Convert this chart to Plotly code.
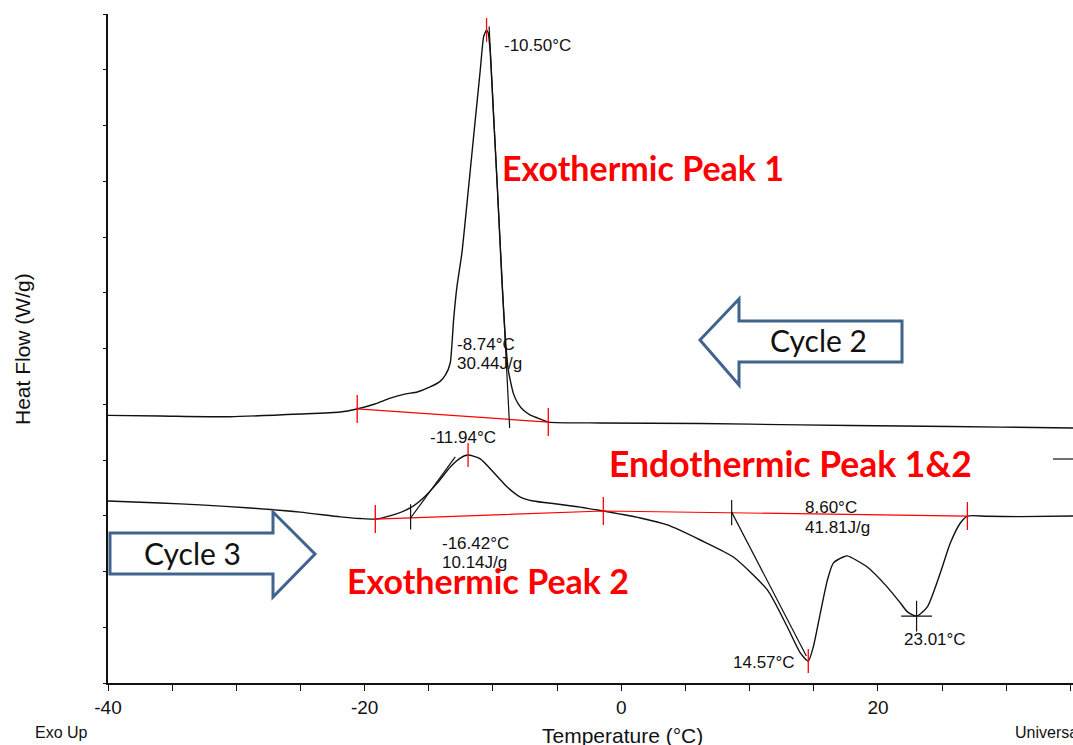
import numpy as np
import plotly.graph_objects as go

# ---- DSC data: Cycle 2 (cooling) and Cycle 3 (heating) ----
cycle2_temp = [-40.0, -35.9, -30.5, -25.0, -21.9, -20.6, -19.2, -18.0, -16.8, -15.9,
               -14.9, -14.1, -13.7, -13.33, -13.07, -12.81, -12.42, -11.90, -11.38, -10.99,
               -10.73, -10.50, -10.37, -10.21, -9.98, -9.66, -9.28, -9.04, -8.81, -8.42,
               -8.03, -7.64, -7.09, -6.55, -5.69, -1.64, 6.16, 13.95, 21.75, 29.54, 35.2]
cycle2_heat_flow = [-0.440, -0.442, -0.445, -0.435, -0.428, -0.417, -0.399, -0.378, -0.363, -0.356,
                    -0.338, -0.317, -0.295, -0.252, -0.098, 0.021, 0.143, 0.379, 0.620, 0.799,
                    0.918, 0.943, 0.932, 0.860, 0.656, 0.379, 0.021, -0.159, -0.277, -0.360,
                    -0.399, -0.421, -0.439, -0.449, -0.464, -0.467, -0.469, -0.474, -0.478, -0.482, -0.485]

cycle3_temp = [-40.0, -35.93, -32.81, -28.92, -25.02, -21.90, -20.34, -19.17, -17.77, -16.45,
               -15.43, -14.34, -13.33, -12.55, -11.94, -10.99, -9.98, -8.89, -7.87, -6.86,
               -4.99, -3.20, -1.40, -0.08, 1.48, 3.59, 6.16, 8.73, 11.38, 12.94,
               13.95, 14.57, 14.96, 15.51, 16.06, 16.52, 17.30, 17.61, 19.17, 20.73,
               21.75, 22.30, 23.01, 23.85, 24.86, 25.64, 26.42, 26.97, 28.5,
               31.0, 35.2]
cycle3_heat_flow = [-0.747, -0.754, -0.761, -0.772, -0.787, -0.804, -0.810, -0.812, -0.797, -0.772,
                    -0.736, -0.683, -0.625, -0.593, -0.582, -0.596, -0.643, -0.697, -0.733, -0.747,
                    -0.758, -0.769, -0.783, -0.794, -0.808, -0.833, -0.887, -0.948, -1.066, -1.199,
                    -1.292, -1.321, -1.271, -1.149, -1.031, -0.970, -0.948, -0.944, -0.984, -1.056,
                    -1.113, -1.145, -1.160, -1.127, -1.005, -0.898, -0.826, -0.801, -0.802,
                    -0.803, -0.801]

# ---- peak analysis results ----
exo1_peak_temp = -10.50
exo1_onset_temp = -8.74
exo1_enthalpy = 30.44
exo1_limits = [-20.58, -5.69]
exo1_tangent_temp = [-10.30, -8.70]
exo1_tangent_hf = [0.955, -0.485]

exo2_peak_temp = -11.94
exo2_onset_temp = -16.42
exo2_enthalpy = 10.14
exo2_tangent_temp = [-16.42, -12.94]
exo2_tangent_hf = [-0.808, -0.589]

endo_onset_temp = 8.60
endo_enthalpy = 41.81
endo_peak1_temp = 14.57
endo_peak2_temp = 23.01
endo_tangent_temp = [8.60, 14.42]
endo_tangent_hf = [-0.787, -1.303]

cycle3_limits = [-19.17, -1.40, 26.97]

x_ticks = [-40, -20, 0, 20]

# ---- canvas geometry ----
W, H = 1073, 745
ML, MR, MT, MB = 108, 0, 14, 62
PW, PH = W - ML - MR, H - MT - MB


def paper_x(px):
    return (px - ML) / PW


def paper_y(py):
    return (H - MB - py) / PH


def hf2(temp):
    return float(np.interp(temp, cycle2_temp, cycle2_heat_flow))


def hf3(temp):
    return float(np.interp(temp, cycle3_temp, cycle3_heat_flow))


INK = "#111111"
RED = "#ff0000"
ARROW = "#41648f"
NUM_FONT = "Liberation Sans, Arial, sans-serif"
LABEL_FONT = "Lato, Open Sans, sans-serif"

fig = go.Figure()

# measured curves
fig.add_trace(go.Scatter(x=cycle2_temp, y=cycle2_heat_flow, mode="lines",
                         line=dict(color=INK, width=1.4, shape="spline", smoothing=0.5),
                         hoverinfo="skip"))
fig.add_trace(go.Scatter(x=cycle3_temp, y=cycle3_heat_flow, mode="lines",
                         line=dict(color=INK, width=1.4, shape="spline", smoothing=0.6),
                         hoverinfo="skip"))

# integration baselines
fig.add_trace(go.Scatter(x=exo1_limits, y=[hf2(t) for t in exo1_limits], mode="lines",
                         line=dict(color=RED, width=1.2), hoverinfo="skip"))
fig.add_trace(go.Scatter(x=cycle3_limits, y=[hf3(t) for t in cycle3_limits], mode="lines",
                         line=dict(color=RED, width=1.2), hoverinfo="skip"))

# onset tangents
for tx, ty in [(exo1_tangent_temp, exo1_tangent_hf),
               (exo2_tangent_temp, exo2_tangent_hf),
               (endo_tangent_temp, endo_tangent_hf)]:
    fig.add_trace(go.Scatter(x=tx, y=ty, mode="lines", line=dict(color=INK, width=1.2),
                             hoverinfo="skip"))

# red limit / peak ticks
red_tx = exo1_limits + cycle3_limits
red_ty = [hf2(t) for t in exo1_limits] + [hf3(t) for t in cycle3_limits]
fig.add_trace(go.Scatter(x=red_tx, y=red_ty, mode="markers",
                         marker=dict(symbol="line-ns", size=20, line=dict(color=RED, width=1.3)),
                         hoverinfo="skip"))
peak_tx = [exo1_peak_temp, exo2_peak_temp, endo_peak1_temp]
peak_ty = [hf2(exo1_peak_temp), hf3(exo2_peak_temp), hf3(endo_peak1_temp)]
fig.add_trace(go.Scatter(x=peak_tx, y=peak_ty, mode="markers",
                         marker=dict(symbol="line-ns", size=17, line=dict(color=RED, width=1.3)),
                         hoverinfo="skip"))

# black onset ticks and second-peak cross
fig.add_trace(go.Scatter(x=[exo2_onset_temp, endo_onset_temp],
                         y=[exo2_tangent_hf[0] + 0.004, endo_tangent_hf[0] - 0.002],
                         mode="markers",
                         marker=dict(symbol="line-ns", size=18, line=dict(color=INK, width=1.2)),
                         hoverinfo="skip"))
fig.add_trace(go.Scatter(x=[endo_peak2_temp], y=[hf3(endo_peak2_temp)], mode="markers",
                         marker=dict(symbol="cross-thin", size=22, line=dict(color=INK, width=1.2)),
                         hoverinfo="skip"))

# ---- cycle arrows ----
def path(points):
    pts = [(paper_x(x), paper_y(y)) for x, y in points]
    return "M " + " L ".join(f"{a:.5f},{b:.5f}" for a, b in pts) + " Z"


cycle2_arrow = [(700, 340), (739, 299), (739, 321), (902, 321), (902, 362), (739, 362), (739, 385)]
cycle3_arrow = [(110, 533), (273, 533), (273, 512), (315, 554), (273, 597), (273, 574), (110, 574)]
shapes = []
for pts in (cycle2_arrow, cycle3_arrow):
    shapes.append(dict(type="path", xref="paper", yref="paper", path=path(pts),
                       line=dict(color=ARROW, width=3), fillcolor="white", layer="above"))
# short trace stub at the right border
shapes.append(dict(type="line", xref="paper", yref="paper",
                   x0=paper_x(1053), x1=paper_x(1073), y0=paper_y(459), y1=paper_y(459),
                   line=dict(color=INK, width=1.2)))

# ---- text ----
ann = []


def text(s, px, py, size, font=NUM_FONT, color=INK, xanchor="left", bold=False, angle=0):
    ann.append(dict(text=f"<b>{s}</b>" if bold else s, xref="paper", yref="paper",
                    x=paper_x(px), y=paper_y(py), xanchor=xanchor, yanchor="middle",
                    showarrow=False, textangle=angle,
                    font=dict(family=font, size=size, color=color)))


text(f"{exo1_peak_temp:.2f}°C", 502, 46, 17)
text(f"{exo1_onset_temp:.2f}°C", 455, 344, 17)
text(f"{exo1_enthalpy:.2f}J/g", 455, 363, 17)
text(f"{exo2_peak_temp:.2f}°C", 463, 437, 17, xanchor="center")
text(f"{exo2_onset_temp:.2f}°C", 440, 543, 17)
text(f"{exo2_enthalpy:.2f}J/g", 440, 562, 17)
text(f"{endo_onset_temp:.2f}°C", 803, 507, 17)
text(f"{endo_enthalpy:.2f}J/g", 803, 527, 17)
text(f"{endo_peak1_temp:.2f}°C", 797, 662, 17, xanchor="right")
text(f"{endo_peak2_temp:.2f}°C", 902, 639, 17)

text("Exothermic Peak 1", 500, 168, 34, font=LABEL_FONT, color=RED, bold=True)
text("Endothermic Peak 1&2", 607, 463, 35.5, font=LABEL_FONT, color=RED, bold=True)
text("Exothermic Peak 2", 345, 580, 34, font=LABEL_FONT, color=RED, bold=True)

text("Cycle 2", 818, 340, 30, font=LABEL_FONT, xanchor="center")
text("Cycle 3", 192, 553, 30, font=LABEL_FONT, xanchor="center")

text("Heat Flow (W/g)", 22, 349, 21, xanchor="center", angle=-90)
text("Temperature (°C)", 622, 735, 21, xanchor="center")
text("Exo Up", 33, 732, 16)
text("Universal V4.5A TA Instruments", 1013, 732, 16)

fig.update_layout(
    width=W, height=H,
    margin=dict(l=ML, r=MR, t=MT, b=MB),
    paper_bgcolor="white", plot_bgcolor="white",
    showlegend=False,
    shapes=shapes, annotations=ann,
    xaxis=dict(range=[-40, 35.2], tickvals=x_ticks, ticktext=[str(v) for v in x_ticks],
               ticks="outside", ticklen=6, tickwidth=1.2, tickcolor=INK,
               minor=dict(dtick=5, tick0=0, ticks="outside", ticklen=6, tickwidth=1.2, tickcolor=INK),
               showline=True, linecolor=INK, linewidth=1.5, showgrid=False, zeroline=False,
               tickfont=dict(family=NUM_FONT, size=19, color=INK)),
    yaxis=dict(range=[-1.4, 1.0], dtick=0.2, tick0=-1.4, showticklabels=False,
               ticks="outside", ticklen=3, tickwidth=1.2, tickcolor=INK,
               showline=True, linecolor=INK, linewidth=1.5, showgrid=False, zeroline=False),
)

fig.write_html("out.html")
